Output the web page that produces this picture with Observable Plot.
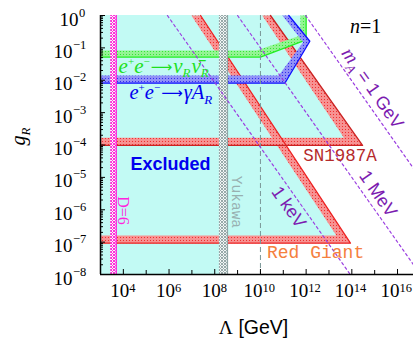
<!DOCTYPE html>
<html><head><meta charset="utf-8">
<script src="https://cdn.jsdelivr.net/npm/d3@7"></script>
<script src="https://cdn.jsdelivr.net/npm/@observablehq/plot@0.6"></script>
<style>html,body{margin:0;padding:0;background:#fff;} #chart svg{display:block;}</style>
</head><body><div id="chart"></div>
<script>
// ---- axes ----
const xDomain = [1e3, 5e16];            // Λ [GeV]
const yDomain = [1e-8, 1];              // g_R
const xMajorExps = [4, 6, 8, 10, 12, 14, 16];
const xMinorExps = [5, 7, 9, 11, 13, 15];
const yMajorExps = [0, -1, -2, -3, -4, -5, -6, -7, -8];

// ---- excluded-region boundaries, points are [Λ, g_R] ----
const redGiantOuter = [[1e3, 9.3e-8], [8.7e13, 9.3e-8], [2.4e7, 1]];
const redGiantInner = [[1e3, 1.6e-7], [2.1e13, 1.6e-7], [9.5e6, 1]];
const sn1987aOuter = [[1e3, 9.7e-5], [2.95e14, 9.7e-5], [2.75e10, 1]];
const sn1987aInner = [[1e3, 1.67e-4], [4.5e13, 1.67e-4], [1.2e10, 1]];
const eeGammaOuter = [[1e3, 8.1e-3], [1.17e11, 8.1e-3], [1.45e12, 0.16], [1.74e11, 1]];
const eeGammaInner = [[1e3, 1.4e-2], [6.3e10, 1.4e-2], [7.4e11, 0.15], [9.1e10, 1]];
const eeNuOuter = [[1e3, 5.2e-2], [1e10, 5.2e-2], [1e12, 0.178], [1e12, 1]];
const eeNuInner = [[1e3, 8.3e-2], [6.8e9, 8.3e-2], [5.6e11, 0.24], [5.6e11, 1]];
const d6Band = [2.8e3, 4.9e3];          // Λ range, bound is the last value
const yukawaBand = [1.6e8, 3.6e8];      // Λ range, bound is the last value
const dashedLambda = [1e10];
const mALabels = ["1 keV", "1 MeV", "1 GeV"];
const mAgLambda = [8.5e5, 1e9, 9.5e11]; // g_R·Λ along each m_A line

// ---- helpers ----
const serif = "Liberation Serif";
const sans = "Liberation Sans";
const mono = "Liberation Mono";
const cyan = "#c2faf4";
const xLeft = xDomain[0], gTop = yDomain[1], gBottom = yDomain[0];
const P = d => d[0], Q = d => d[1];
const withCorner = p => [...p, [xLeft, gTop]];
const band = (o, i) => [...o, ...i.slice().reverse()];
const mALines = mAgLambda.flatMap((c, i) => [
  {label: mALabels[i], L: c / gTop, g: gTop},
  {label: mALabels[i], L: c / gBottom, g: gBottom}
]);
const yMinor = [];
for (const e of yMajorExps) if (e < 0) for (let m = 2; m <= 9; m++) yMinor.push(m * 10 ** e);

const svg = Plot.plot({
  width: 415, height: 343,
  marginLeft: 100, marginRight: 2, marginTop: 15, marginBottom: 69,
  x: {type: "log", domain: xDomain},
  y: {type: "log", domain: yDomain},
  style: {background: "#fff", color: "#000"},
  marks: [
    // excluded (cyan) area
    Plot.rect([yukawaBand], {x1: xLeft, x2: d => d[1], y1: gBottom, y2: gTop, fill: cyan}),
    ...[redGiantOuter, sn1987aOuter, eeGammaOuter, eeNuOuter].map(p =>
      Plot.line(withCorner(p), {x: P, y: Q, fill: cyan, stroke: "none"})),
    // astrophysical bounds
    Plot.line(band(redGiantOuter, redGiantInner), {x: P, y: Q, fill: "url(#hRed)", stroke: "none"}),
    Plot.line(band(sn1987aOuter, sn1987aInner), {x: P, y: Q, fill: "url(#hRed)", stroke: "none"}),
    Plot.line(redGiantOuter, {x: P, y: Q, stroke: "#ee2222", strokeWidth: 1.3}),
    Plot.line(sn1987aOuter, {x: P, y: Q, stroke: "#cc2222", strokeWidth: 1.3}),
    // collider bounds
    Plot.line(band(eeNuOuter, eeNuInner), {x: P, y: Q, fill: "url(#hGreen)", stroke: "none"}),
    Plot.line(eeNuOuter, {x: P, y: Q, stroke: "#22ee22", strokeWidth: 1.3}),
    Plot.line(band(eeGammaOuter, eeGammaInner), {x: P, y: Q, fill: "url(#hBlue)", stroke: "none"}),
    Plot.line(eeGammaOuter, {x: P, y: Q, stroke: "#1010ff", strokeWidth: 1.3}),
    // Yukawa and D=6
    Plot.rect([yukawaBand], {x1: d => d[0], x2: d => d[1], y1: gBottom, y2: gTop, fill: "url(#hGray)"}),
    Plot.ruleX([yukawaBand[1]], {stroke: "#90a6a6", strokeWidth: 1.3}),
    Plot.rect([d6Band], {x1: d => d[0], x2: d => d[1], y1: gBottom, y2: gTop, fill: "url(#hMag)"}),
    Plot.ruleX([d6Band[1]], {stroke: "#ff22dd", strokeWidth: 1.3}),
    Plot.ruleX(dashedLambda, {stroke: "#7a9696", strokeWidth: 1, strokeDasharray: "5,3"}),
    // m_A lines
    Plot.line(mALines, {x: "L", y: "g", z: "label", stroke: "#9b3fe0", strokeWidth: 1.2, strokeDasharray: "2.5,3", clip: true}),
    // labels
    Plot.text(["ee-nu"], {x: 6.2e3, y: 0.0168, textAnchor: "start", lineAnchor: "bottom", fill: "#1ee01e", fontSize: 21, fontFamily: serif}),
    Plot.text(["ee-gamma"], {x: 1.86e4, y: 2.64e-3, textAnchor: "start", lineAnchor: "bottom", fill: "#0000ee", fontSize: 20.5, fontFamily: serif}),
    Plot.text(["Excluded"], {x: 1.15e6, y: 2.6e-5, fill: "#0000ee", fontSize: 18, fontWeight: "bold", fontFamily: sans}),
    Plot.text(["SN1987A"], {x: 3.0e13, y: 4.7e-5, fill: "#b52a2a", fontSize: 17.5, fontFamily: mono}),
    Plot.text(["Red Giant"], {x: 2.6e12, y: 4.95e-8, fill: "#f5803e", fontSize: 18, fontFamily: mono}),
    Plot.text(["Yukawa"], {x: 8.9e8, y: 1.74e-6, rotate: 90, fill: "#98b0b0", fontSize: 14.5, fontFamily: mono}),
    Plot.text(["D=6"], {x: 9.7e3, y: 9.5e-7, rotate: 90, fill: "#ff22dd", fontSize: 16, fontFamily: serif}),
    Plot.text(["n=1"], {x: 4e14, y: 0.457, fill: "#000", fontSize: 20, fontFamily: serif}),
    Plot.text([mALabels[0]], {x: 1.74e11, y: 1.2e-6, rotate: 55, fill: "#7c1bb0", fontSize: 18, fontFamily: sans}),
    Plot.text([mALabels[1]], {x: 1.4e15, y: 3.1e-6, rotate: 55, fill: "#7c1bb0", fontSize: 18, fontFamily: sans}),
    Plot.text([mALabels[2]], {x: 8e14, y: 5.6e-3, rotate: 55, fill: "#7c1bb0", fontSize: 18, fontFamily: sans}),
    // axes
    Plot.axisX({ticks: xMajorExps.map(e => 10 ** e), tickSize: -5, tickFormat: () => "", label: null}),
    Plot.axisX({ticks: xMinorExps.map(e => 10 ** e), tickSize: -4, tickFormat: () => "", label: null}),
    Plot.axisY({ticks: yMajorExps.map(e => 10 ** e), tickSize: -5, tickFormat: () => "", label: null}),
    Plot.axisY({ticks: yMinor, tickSize: -3, tickFormat: () => "", label: null}),
    Plot.ruleX([xLeft], {stroke: "#000", strokeWidth: 1.5}),
    Plot.ruleY([gBottom], {stroke: "#000", strokeWidth: 1.5}),
    // tick labels
    Plot.text(xMajorExps.filter(e => e < 10), {x: e => 10 ** e, frameAnchor: "bottom", text: () => "10", textAnchor: "end", dx: 6, dy: 22.5, fontSize: 19, fontFamily: serif}),
    Plot.text(xMajorExps.filter(e => e >= 10), {x: e => 10 ** e, frameAnchor: "bottom", text: () => "10", textAnchor: "end", dx: 2, dy: 22.5, fontSize: 19, fontFamily: serif}),
    Plot.text(xMajorExps.filter(e => e < 10), {x: e => 10 ** e, frameAnchor: "bottom", text: e => String(e), textAnchor: "start", dx: 6, dy: 17, fontSize: 12.5, fontFamily: serif}),
    Plot.text(xMajorExps.filter(e => e >= 10), {x: e => 10 ** e, frameAnchor: "bottom", text: e => String(e), textAnchor: "start", dx: 2, dy: 17, fontSize: 12.5, fontFamily: serif}),
    Plot.text(yMajorExps.filter(e => e === 0), {y: e => 10 ** e, frameAnchor: "left", text: () => "10", textAnchor: "end", dx: -22, dy: 4, fontSize: 19, fontFamily: serif}),
    Plot.text(yMajorExps.filter(e => e < 0), {y: e => 10 ** e, frameAnchor: "left", text: () => "10", textAnchor: "end", dx: -28, dy: 4, fontSize: 19, fontFamily: serif}),
    Plot.text(yMajorExps.filter(e => e === 0), {y: e => 10 ** e, frameAnchor: "left", text: e => String(e), textAnchor: "start", dx: -21.5, dy: -3, fontSize: 12.5, fontFamily: serif}),
    Plot.text(yMajorExps.filter(e => e < 0), {y: e => 10 ** e, frameAnchor: "left", text: e => "\u2212" + (-e), textAnchor: "start", dx: -27.5, dy: -3, fontSize: 12.5, fontFamily: serif}),
    // axis titles
    Plot.text(["gR"], {frameAnchor: "left", y: 9.7e-5, dx: -82, rotate: -90, fontSize: 20, fontFamily: serif}),
    Plot.text(["Λ [GeV]"], {frameAnchor: "bottom", x: 5e9, dy: 59, lineAnchor: "bottom", fontSize: 19.5, fontFamily: serif})
  ]
});

// hatch patterns
const defs = d3.select(svg).insert("defs", ":first-child");
function hatch(id, bg, fg) {
  const p = defs.append("pattern").attr("id", id).attr("patternUnits", "userSpaceOnUse").attr("width", 3).attr("height", 3);
  p.append("rect").attr("width", 3).attr("height", 3).attr("fill", bg);
  p.append("path").attr("d", "M0,0L3,3M3,0L0,3").attr("stroke", fg).attr("stroke-width", 1);
}
hatch("hRed", "#fff4f4", "#ee3030");
hatch("hGreen", "#f2fff2", "#33e833");
hatch("hBlue", "#f2f2ff", "#3030ee");
hatch("hMag", "#fff0fb", "#ff30d8");
hatch("hGray", "#f2f6f6", "#98aaaa");

// rich text (super/subscripts): find the text element by its plain content
function rich(plain, parts) {
  d3.select(svg).selectAll("text").filter(function () { return this.textContent === plain; }).each(function () {
    const t = d3.select(this);
    t.text(null);
    let shift = 0;
    for (const p of parts) {
      const s = t.append("tspan").text(p.t);
      const target = p.s || 0;
      if (target !== shift) { s.attr("dy", target - shift); shift = target; }
      if (p.z) s.attr("font-size", p.z);
      if (p.i) s.attr("font-style", "italic");
      if (p.f) s.attr("font-family", p.f);
      if (p.x) s.attr("dx", p.x);
    }
  });
}
const arrow = {t: "\u27f6", f: "DejaVu Sans", z: 15, s: -1, x: 1};
rich("ee-nu", [{t: "e", i: 1}, {t: "+", s: -8, z: 11}, {t: "e", i: 1}, {t: "\u2212", s: -8, z: 11},
  arrow, {t: "\u03bd", i: 1, x: 1}, {t: "R", i: 1, s: 4, z: 13}, {t: "\u03bd\u0304", i: 1, x: 1}, {t: "R", i: 1, s: 4, z: 13}]);
rich("ee-gamma", [{t: "e", i: 1}, {t: "+", s: -8, z: 11}, {t: "e", i: 1}, {t: "\u2212", s: -8, z: 11},
  arrow, {t: "\u03b3", i: 1, x: 1}, {t: "A", i: 1}, {t: "R", i: 1, s: 5, z: 13}]);
rich("n=1", [{t: "n", i: 1}, {t: "=1"}]);
rich("1 GeV", [{t: "m", i: 1, f: serif, z: 20}, {t: "A", i: 1, f: serif, s: 5, z: 13}, {t: " = 1 GeV"}]);
rich("gR", [{t: "g", i: 1}, {t: "R", i: 1, s: 5, z: 13}]);
rich("Λ [GeV]", [{t: "\u039b"}, {t: " [GeV]", f: sans}]);

document.getElementById("chart").append(svg);
</script>
</body></html>
